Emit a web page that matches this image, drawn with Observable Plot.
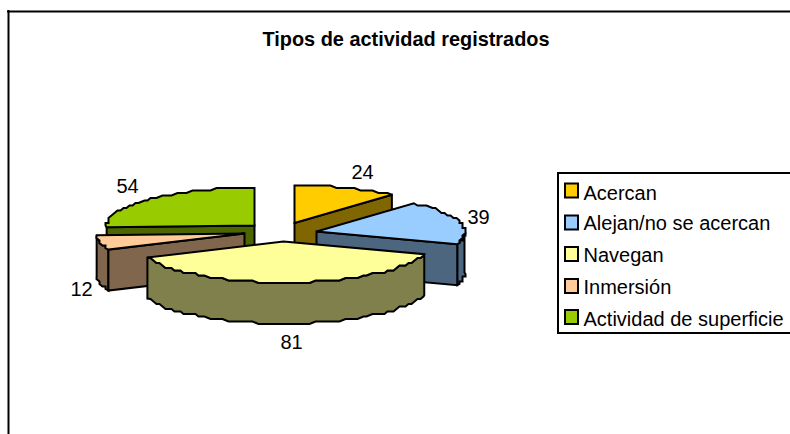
<!DOCTYPE html>
<html>
<head>
<meta charset="utf-8">
<script src="https://cdn.jsdelivr.net/npm/d3@7"></script>
<script src="https://cdn.jsdelivr.net/npm/@observablehq/plot@0.6"></script>
<style>html,body{margin:0;padding:0;background:#fff;overflow:hidden}</style>
</head>
<body>
<div id="chart"></div>
<script>
const title = "Tipos de actividad registrados";
const categories = ["Acercan", "Alejan/no se acercan", "Navegan", "Inmersión", "Actividad de superficie"];
const values = [24, 39, 81, 12, 54];
const colors = ["#FFCC00", "#99CCFF", "#FFFF99", "#FFCC99", "#99CC00"];

// Layout of the exploded 3D pie
const font = "'Liberation Sans', Arial, sans-serif";
const apex = [[294, 222.5], [316, 231], [283, 241], [244, 233], [254, 225]];
const labelPos = [[362, 172], [478, 217], [291, 342], [81, 289], [127, 186]];
const legendY = [190.5, 222.5, 254, 286, 317];
const legendTextY = [193, 223.5, 255, 287, 319];
const rx = 148, ryBack = 37.5, ryFront = 41, depth = 41;

const total = d3.sum(values);
let acc = 0;
const slices = values.map((v, i) => {
  const a0 = acc / total * 2 * Math.PI;
  acc += v;
  return {i, a0, a1: acc / total * 2 * Math.PI};
});
const pt = (s, a) => {
  const c = Math.cos(a);
  return [apex[s.i][0] + rx * Math.sin(a), apex[s.i][1] - c * (c > 0 ? ryBack : ryFront)];
};
// the reference's arcs are coarse and stepped, so snap the sampled rim to a small grid
const snap = p => [Math.round(p[0] / 3) * 3, Math.round(p[1] / 2.5) * 2.5];
const arc = (s, a0, a1) => {
  const n = Math.max(2, Math.ceil(Math.abs(a1 - a0) / (2.5 * Math.PI / 180)));
  return d3.range(n + 1).map(k => {
    const p = pt(s, a0 + (a1 - a0) * k / n);
    return k === 0 || k === n ? p : snap(p);
  });
};
const down = p => [p[0], p[1] + depth];
const half = c => { const r = d3.rgb(c); return d3.rgb(r.r / 2, r.g / 2, r.b / 2).formatHex(); };

const rows = [];
let pid = 0;
const poly = (points, fill) => { pid++; for (const [x, y] of points) rows.push({id: pid, x, y, fill}); };
const extrude = (top, fill) => poly([...top, ...top.slice().reverse().map(down)], fill);

const S = slices;
const q = Math.PI / 2;
// back slices first, then the ones in front of them
const order = [
  {s: S[0], faces: [S[0].a1]},
  {s: S[4], faces: [S[4].a0]},
  {s: S[1], faces: [S[1].a1], wall: [q, S[1].a1]},
  {s: S[3], faces: [S[3].a0], wall: [S[3].a0, S[3].a1]},
  {s: S[2], faces: [], wall: [S[2].a0, S[2].a1]}
];
for (const {s, faces, wall} of order) {
  const base = colors[s.i], dark = half(base);
  if (wall) extrude(arc(s, wall[0], wall[1]), dark);
  for (const a of faces) extrude([apex[s.i], pt(s, a)], dark);
  poly([apex[s.i], ...arc(s, s.a0, s.a1)], base);
}

const legendRows = categories.map((name, i) => ({
  name, fill: colors[i], y: legendY[i], ty: legendTextY[i]
}));
const labelRows = values.map((v, i) => ({v, x: labelPos[i][0], y: labelPos[i][1]}));

const plot = Plot.plot({
  width: 790,
  height: 434,
  margin: 0,
  x: {domain: [0, 790], range: [0, 790], axis: null},
  y: {domain: [0, 434], range: [0, 434], axis: null},
  style: {background: "#fff", fontFamily: font, color: "#000"},
  marks: [
    Plot.ruleX([8], {y1: 10, y2: 440, stroke: "#000", strokeWidth: 2}),
    Plot.ruleY([11], {x1: 7, x2: 800, stroke: "#000", strokeWidth: 2}),
    Plot.text([title], {x: 405.5, y: 39, text: d => d, fontSize: 19.9, fontWeight: "bold", fill: "#000"}),
    Plot.line(rows, {x: "x", y: "y", z: "id", fill: "fill", stroke: "#000", strokeWidth: 2, strokeLinejoin: "miter", strokeMiterlimit: 2, curve: "linear-closed"}),
    Plot.text(labelRows, {x: "x", y: "y", text: d => String(d.v), fontSize: 20, fill: "#000"}),
    Plot.rect([0], {x1: 558, x2: 800, y1: 173, y2: 333, fill: "none", stroke: "#000", strokeWidth: 2}),
    Plot.rect(legendRows, {x1: 565, x2: 578, y1: d => d.y - 7, y2: d => d.y + 7, fill: "fill", stroke: "#000", strokeWidth: 2}),
    Plot.text(legendRows, {x: 583, y: "ty", text: "name", textAnchor: "start", fontSize: 20, fill: "#000"})
  ]
});
document.getElementById("chart").appendChild(plot);
</script>
</body>
</html>
